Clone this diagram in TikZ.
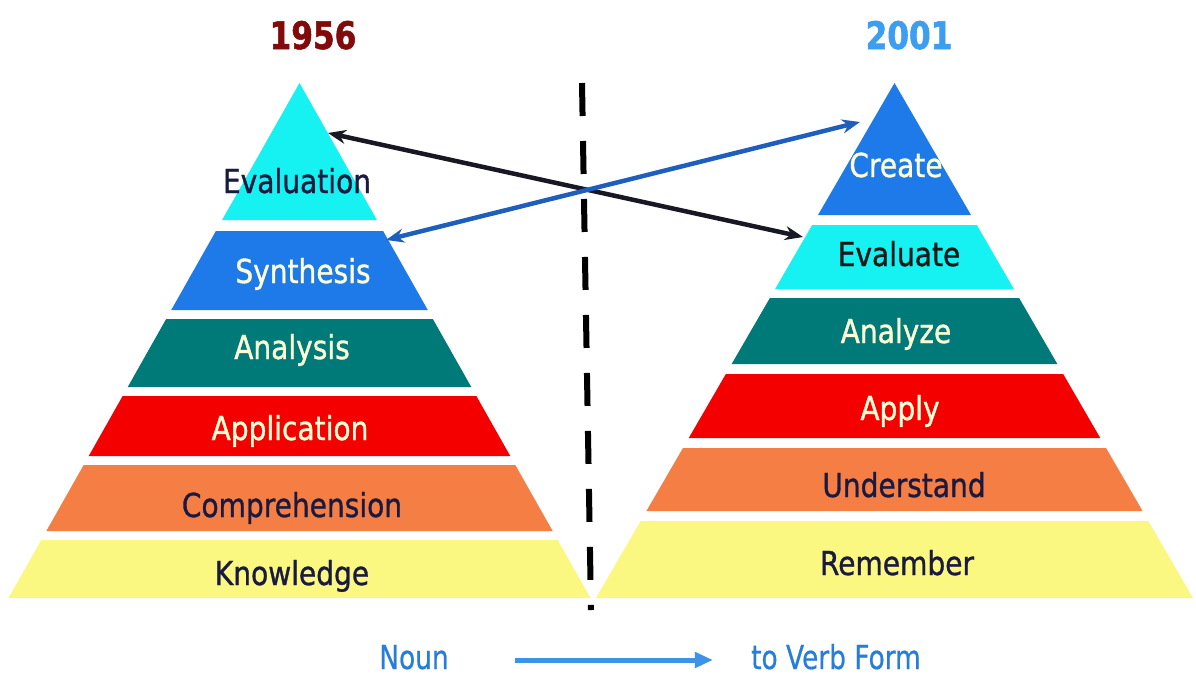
\documentclass[tikz,border=0pt]{standalone}
\usepackage{fontspec}
\newfontfamily\labfont[FakeStretch=0.85,FakeBold=1.0]{DejaVu Sans}
\newfontfamily\yearfont[FakeStretch=0.82,FakeBold=1.4]{DejaVu Sans Bold}
\newfontfamily\botfont[FakeStretch=0.8,FakeBold=0.6]{DejaVu Sans}
\usetikzlibrary{arrows.meta}
\definecolor{cCyan}{RGB}{22,242,242}
\definecolor{cBlue}{RGB}{30,122,232}
\definecolor{cTeal}{RGB}{0,122,120}
\definecolor{cRed}{RGB}{244,0,0}
\definecolor{cOrange}{RGB}{244,126,68}
\definecolor{cYellow}{RGB}{250,248,128}
\definecolor{cNavy}{RGB}{26,26,64}
\definecolor{cPale}{RGB}{255,255,214}
\definecolor{cOld}{RGB}{130,10,10}
\definecolor{cNew}{RGB}{60,158,240}
\definecolor{cArrBlue}{RGB}{30,95,190}
\definecolor{cArrBlack}{RGB}{24,24,36}
\definecolor{cBotTxt}{RGB}{40,125,215}
\definecolor{cBotArr}{RGB}{60,148,232}
\newcommand{\pyrband}[5]{%
  \pgfmathsetmacro\bandwA{(#3-83)/515*#2}%
  \pgfmathsetmacro\bandwB{(#4-83)/515*#2}%
  \fill[#5] ({#1-\bandwA},#3) -- ({#1+\bandwA},#3) -- ({#1+\bandwB},#4) -- ({#1-\bandwB},#4) -- cycle;}
\tikzset{
  lab/.style={font={\labfont\fontsize{33pt}{33pt}\selectfont}, anchor=base, inner sep=0pt},
  dk/.style={lab, text=cNavy},
  lt/.style={lab, text=cPale},
  yeartxt/.style={font={\yearfont\fontsize{38pt}{38pt}\selectfont}, anchor=base, inner sep=0pt},
  bottxt/.style={font={\botfont\fontsize{33pt}{33pt}\selectfont}, anchor=base, inner sep=0pt, text=cBotTxt},
  crossarrow/.style={line width=4.5pt, {Stealth[length=18pt,width=14pt]}-{Stealth[length=18pt,width=14pt]}},
  divider/.style={line width=6pt, dash pattern=on 33pt off 25pt, black}
}
\begin{document}
\begin{tikzpicture}[x=1pt,y=-1pt]
\useasboundingbox[fill=white] (0,0) rectangle (1196,675);
% left pyramid (1956)
\pyrband{299.5}{291}{83}{220}{cCyan}
\pyrband{299.5}{291}{231}{310}{cBlue}
\pyrband{299.5}{291}{319}{387}{cTeal}
\pyrband{299.5}{291}{396}{456}{cRed}
\pyrband{299.5}{291}{465}{531}{cOrange}
\pyrband{299.5}{291}{540}{598}{cYellow}
% right pyramid (2001)
\pyrband{894.5}{298.5}{83}{215}{cBlue}
\pyrband{894.5}{298.5}{225}{289}{cCyan}
\pyrband{894.5}{298.5}{298}{364}{cTeal}
\pyrband{894.5}{298.5}{374}{438}{cRed}
\pyrband{894.5}{298.5}{448}{511}{cOrange}
\pyrband{894.5}{298.5}{521}{598}{cYellow}
% titles
\node[yeartxt, text=cOld] (y1956) at (313,49) {1956};
\node[yeartxt, text=cNew] (y2001) at (909,49) {2001};
% labels left
\node[dk] (evaluation) at (297,193) {Evaluation};
\node[lt] (synthesis) at (303,283) {Synthesis};
\node[lt] (analysis) at (292,359) {Analysis};
\node[lt] (application) at (290,440) {Application};
\node[dk] (comprehension) at (292,517) {Comprehension};
\node[dk] (knowledge) at (292,585) {Knowledge};
% labels right
\node[lt] (create) at (896,177) {Create};
\node[lab, text=black!90] (evaluate) at (899,266) {Evaluate};
\node[lt] (analyze) at (896,343) {Analyze};
\node[lt] (apply) at (900,420) {Apply};
\node[dk] (understand) at (904,497) {Understand};
\node[dk] (remember) at (897,575) {Remember};
% divider
\coordinate (dtop) at (582,83);
\coordinate (dbot) at (591,610);
\draw[divider] (dtop) -- (dbot);
% cross arrows
\coordinate (evalTip) at (328,133);
\coordinate (evaluateTip) at (803,237);
\coordinate (synthTip) at (386,240);
\coordinate (createTip) at (860,122);
\draw[crossarrow, cArrBlack] (evalTip) -- (evaluateTip);
\draw[crossarrow, cArrBlue] (synthTip) -- (createTip);
% bottom legend
\node[bottxt] (noun) at (414,669) {Noun};
\node[bottxt] (verb) at (836,669) {to Verb Form};
\draw[cBotArr, line width=5pt, -{Triangle[length=18pt,width=15pt]}] ([xshift=66pt,yshift=9pt]noun.base east) -- ([xshift=-38pt,yshift=9pt]verb.base west);
\end{tikzpicture}
\end{document}
